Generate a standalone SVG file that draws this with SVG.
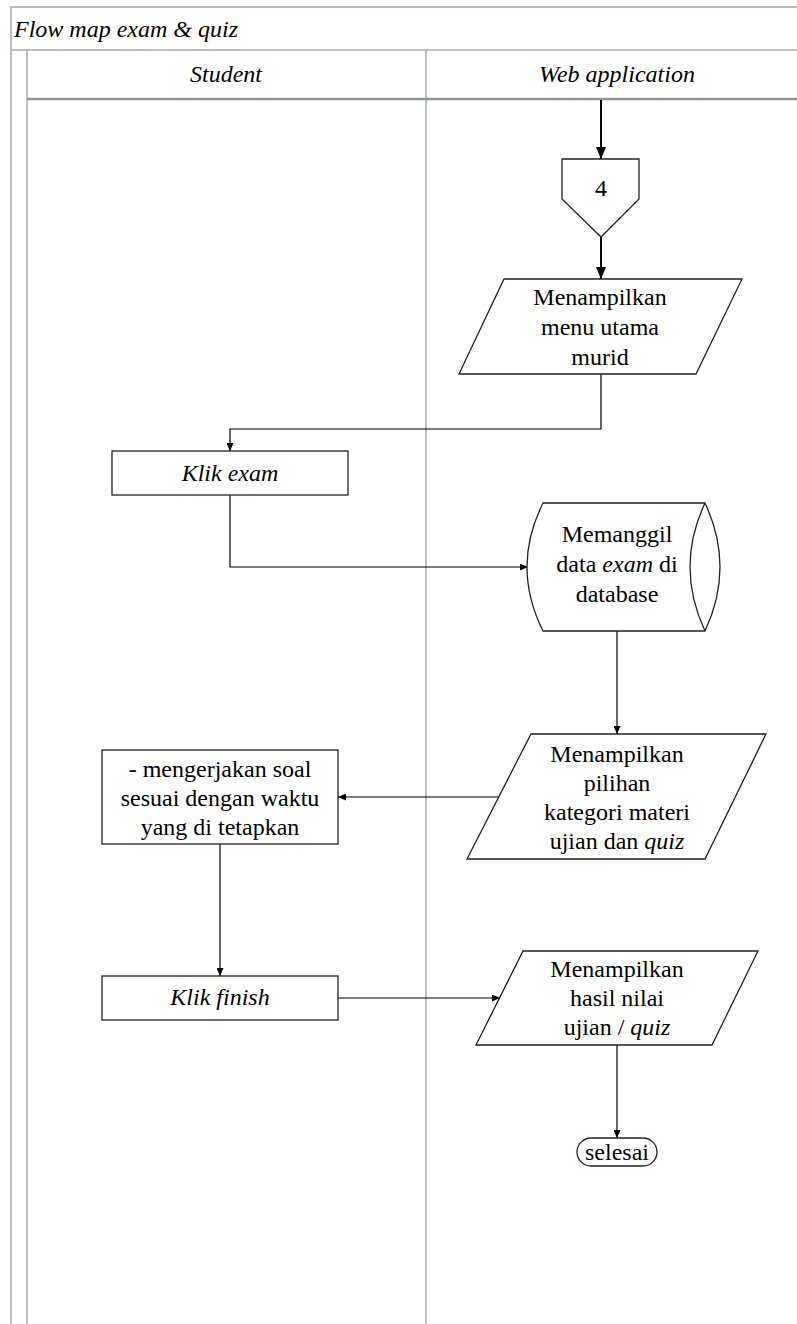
<svg xmlns="http://www.w3.org/2000/svg" width="797" height="1324" viewBox="0 0 797 1324">
<style>
.t{font-size:24px;fill:#000;text-anchor:middle}
.it{font-style:italic}
.node{fill:#fff;stroke:#222;stroke-width:1.3}
.pool{fill:none;stroke:#a3ada8;stroke-width:1.5}
.c{fill:none;stroke:#000;stroke-width:1.2}
.ct{fill:none;stroke:#000;stroke-width:2}
</style>
<defs>
<marker id="a" markerUnits="userSpaceOnUse" markerWidth="8" markerHeight="7" refX="8" refY="3.5" orient="auto"><path d="M0,0 L8,3.5 L0,7 z" fill="#000"/></marker>
<marker id="ab" markerUnits="userSpaceOnUse" markerWidth="12" markerHeight="10" refX="12" refY="5" orient="auto"><path d="M0,0 L12,5 L0,10 z" fill="#000"/></marker>
</defs>
<rect width="797" height="1324" fill="#fff"/>
<g font-family="Liberation Serif, Times New Roman, serif">
<g id="pool">
<path class="pool" d="M11,1324 V7 H797"/>
<path class="pool" d="M11,50 H797"/>
<path class="pool" d="M27,50 V1324"/>
<path class="pool" d="M426,50 V1324"/>
<path d="M27,99 H797" stroke="#8e9893" stroke-width="2.5" fill="none"/>
<text class="t it" x="14" y="37" text-anchor="start" style="text-anchor:start">Flow map exam &amp; quiz</text>
<text class="t it" x="226" y="82">Student</text>
<text class="t it" x="617" y="82">Web application</text>
</g>
<g id="connectors">
<path class="ct" d="M601,100 V159" marker-end="url(#ab)"/>
<path class="ct" d="M601,237 V279" marker-end="url(#ab)"/>
<path class="c" d="M601,374 V429 H230 V451" marker-end="url(#a)"/>
<path class="c" d="M230,495 V567 H528" marker-end="url(#a)"/>
<path class="c" d="M617,631 V734" marker-end="url(#a)"/>
<path class="c" d="M499,797 H338" marker-end="url(#a)"/>
<path class="c" d="M220,844 V976" marker-end="url(#a)"/>
<path class="c" d="M338,998 H500" marker-end="url(#a)"/>
<path class="c" d="M617,1045 V1138" marker-end="url(#a)"/>
</g>
<g id="n4">
<path class="node" d="M562,159 H639 V199 L601,237 L562,199 Z"/>
<text class="t" x="601" y="196">4</text>
</g>
<g id="menu-utama">
<path class="node" d="M504,279 H742 L696,374 H459 Z"/>
<text class="t" x="600" y="305">Menampilkan</text>
<text class="t" x="600" y="335">menu utama</text>
<text class="t" x="600" y="365">murid</text>
</g>
<g id="klik-exam">
<rect class="node" x="112" y="451" width="236" height="44"/>
<text class="t it" x="230" y="481">Klik exam</text>
</g>
<g id="db-exam">
<path class="node" d="M543,503 H705 Q735,567 705,631 H543 Q511,567 543,503 Z"/>
<path class="node" d="M705,503 Q675,567 705,631"/>
<text class="t" x="617" y="542">Memanggil</text>
<text class="t" x="617" y="572">data <tspan class="it">exam</tspan> di</text>
<text class="t" x="617" y="602">database</text>
</g>
<g id="pilihan">
<path class="node" d="M531,734 H766 L705,859 H467 Z"/>
<text class="t" x="617" y="762">Menampilkan</text>
<text class="t" x="617" y="791">pilihan</text>
<text class="t" x="617" y="820">kategori materi</text>
<text class="t" x="617" y="849">ujian dan <tspan class="it">quiz</tspan></text>
</g>
<g id="mengerjakan">
<rect class="node" x="102" y="750" width="236" height="94"/>
<text class="t" x="220" y="777">- mengerjakan soal</text>
<text class="t" x="220" y="806">sesuai dengan waktu</text>
<text class="t" x="220" y="835">yang di tetapkan</text>
</g>
<g id="klik-finish">
<rect class="node" x="102" y="976" width="236" height="44"/>
<text class="t it" x="220" y="1005">Klik finish</text>
</g>
<g id="hasil">
<path class="node" d="M523,951 H758 L712,1045 H476 Z"/>
<text class="t" x="617" y="977">Menampilkan</text>
<text class="t" x="617" y="1006">hasil nilai</text>
<text class="t" x="617" y="1035">ujian / <tspan class="it">quiz</tspan></text>
</g>
<g id="selesai">
<rect class="node" x="577" y="1138" width="80" height="28" rx="14"/>
<text class="t" x="617" y="1160">selesai</text>
</g>
</g>
</svg>
